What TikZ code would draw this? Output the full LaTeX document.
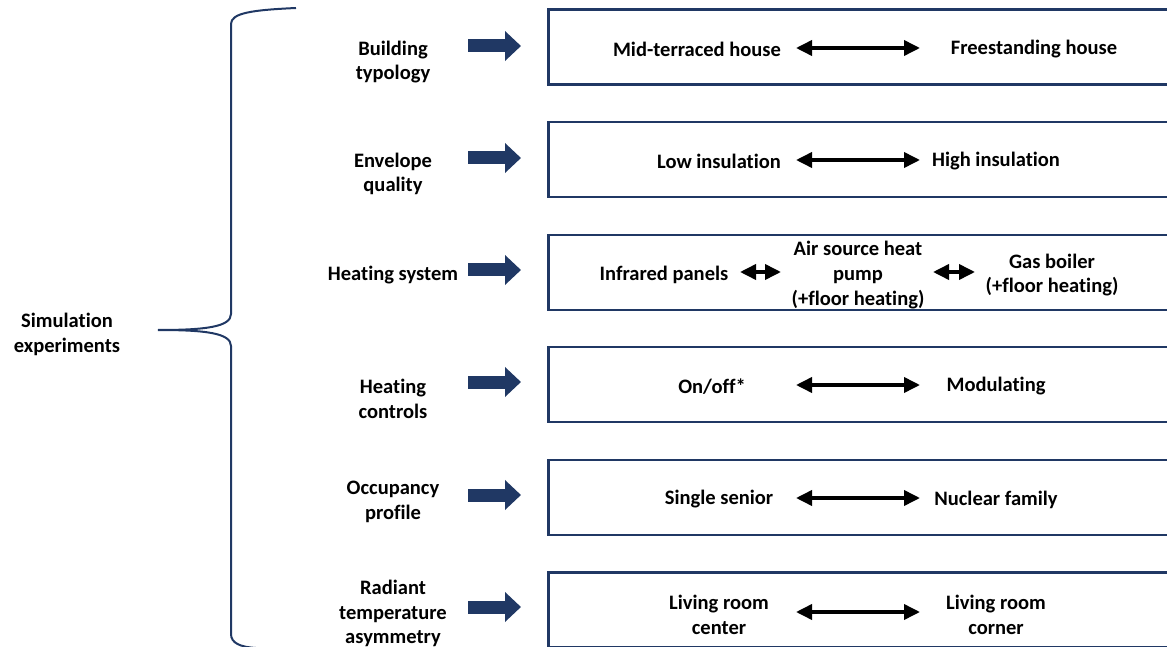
\documentclass[tikz,border=0pt]{standalone}
\usepackage{fontspec}
\setmainfont{Carlito}[Ligatures=NoCommon]
\usetikzlibrary{arrows.meta}
\definecolor{navy}{RGB}{32,56,100}
\begin{document}
\begin{tikzpicture}[x=1bp,y=-1bp,
  lbl/.style={font=\bfseries\fontsize{20.6}{24.8}\selectfont, align=center, inner sep=0pt, text=black},
  box/.style={draw=navy, line width=2.5bp, minimum width=650bp, minimum height=75bp, anchor=west, inner sep=0pt},
  bigarrow/.style={navy, line width=13bp, -{Triangle[length=16bp,width=29bp]}, shorten >=26bp},
  dblarrow/.style={black, line width=3.6bp, {Triangle[length=16bp,width=15bp]}-{Triangle[length=16bp,width=15bp]}},
  bracepath/.style={navy, line width=2bp}]
\useasboundingbox (0,0) rectangle (1167,647);

% boxes
\node[box] (b1) at (547,47) {};
\node[box] (b2) at (547,159.5) {};
\node[box] (b3) at (547,272.5) {};
\node[box] (b4) at (547,384.5) {};
\node[box] (b5) at (547,497.5) {};
\node[box] (b6) at (547,610) {};

% brace
\draw[bracepath] (296,8) .. controls (252,10) and (231,13) .. (231,24) -- (231,314)
  .. controls (231,327) and (205,330) .. (158,330)
  .. controls (205,330) and (231,333) .. (231,346) -- (231,634)
  .. controls (231,643) and (240,647) .. (256,648);

\node[lbl] (sim) at (67,334.5) {Simulation\\experiments};

% left labels
\node[lbl] (L1) at (393,62) {Building\\typology};
\node[lbl] (L2) at (393,174) {Envelope\\quality};
\node[lbl] (L3) at (393,275) {Heating system};
\node[lbl] (L4) at (393,399) {Heating\\controls};
\node[lbl] (L5) at (393,502) {Occupancy\\profile};
\node[lbl] (L6) at (393,613.5) {Radiant\\temperature\\asymmetry};

% blue arrows
\coordinate (p1) at (468,46);
\coordinate (p2) at (468,158);
\coordinate (p3) at (468,270);
\coordinate (p4) at (468,382);
\coordinate (p5) at (468,495);
\coordinate (p6) at (468,607);
\draw[bigarrow] (p1) -- (b1.west |- p1);
\draw[bigarrow] (p2) -- (b2.west |- p2);
\draw[bigarrow] (p3) -- (b3.west |- p3);
\draw[bigarrow] (p4) -- (b4.west |- p4);
\draw[bigarrow] (p5) -- (b5.west |- p5);
\draw[bigarrow] (p6) -- (b6.west |- p6);

% row 1
\node[lbl] (r1a) at (697,49.5) {Mid-terraced house};
\node[lbl] (r1b) at (1034,49.5) {Freestanding house};
\coordinate (s1) at (796,48); \coordinate (e1) at (920,48);
\draw[dblarrow] (s1) -- (e1);
% row 2
\node[lbl] (r2a) at (719,161.5) {Low insulation};
\node[lbl] (r2b) at (996,161.5) {High insulation};
\coordinate (s2) at (796,160); \coordinate (e2) at (920,160);
\draw[dblarrow] (s2) -- (e2);
% row 3
\node[lbl] (r3a) at (664,274.5) {Infrared panels};
\node[lbl] (r3b) at (858,275) {Air source heat\\pump\\(+floor heating)};
\node[lbl] (r3c) at (1052,275) {Gas boiler\\(+floor heating)};
\coordinate (s3) at (740,272); \coordinate (e3) at (781,272);
\draw[dblarrow] (s3) -- (e3);
\coordinate (s4) at (933,272); \coordinate (e4) at (975,272);
\draw[dblarrow] (s4) -- (e4);
% row 4
\node[lbl] (r4a) at (712,386.5) {On/off*};
\node[lbl] (r4b) at (996,386.5) {Modulating};
\coordinate (s5) at (796,385); \coordinate (e5) at (920,385);
\draw[dblarrow] (s5) -- (e5);
% row 5
\node[lbl] (r5a) at (719,499.5) {Single senior};
\node[lbl] (r5b) at (996,499.5) {Nuclear family};
\coordinate (s6) at (796,498); \coordinate (e6) at (920,498);
\draw[dblarrow] (s6) -- (e6);
% row 6
\node[lbl] (r6a) at (719,615) {Living room\\center};
\node[lbl] (r6b) at (996,615) {Living room\\corner};
\coordinate (s7) at (796,612); \coordinate (e7) at (920,612);
\draw[dblarrow] (s7) -- (e7);
\end{tikzpicture}
\end{document}
